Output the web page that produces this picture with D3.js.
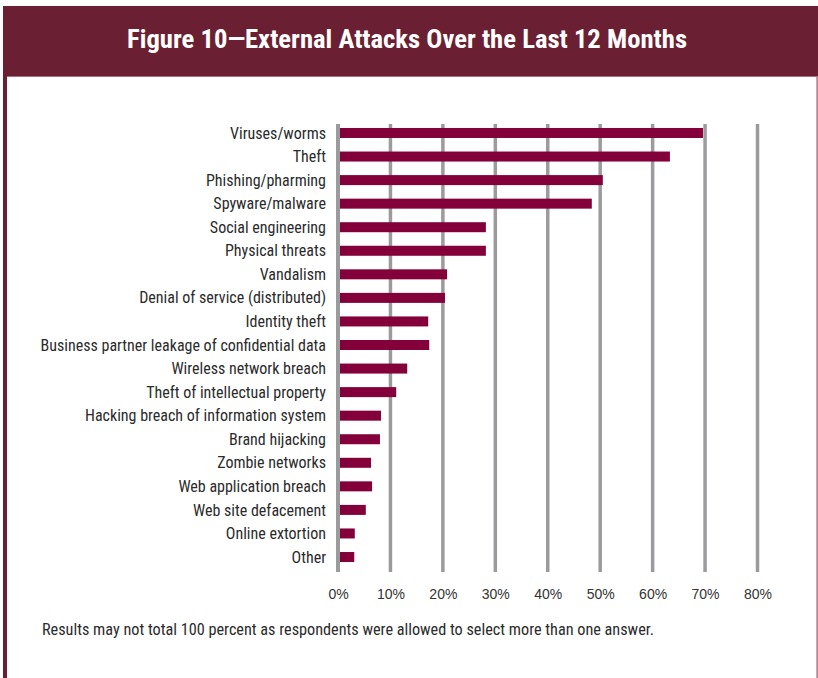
<!DOCTYPE html>
<html>
<head>
<meta charset="utf-8">
<script src="https://cdn.jsdelivr.net/npm/d3@7/dist/d3.min.js"></script>
<style>
  html, body { margin: 0; padding: 0; background: #ffffff; }
  svg { display: block; }
</style>
</head>
<body>
<svg id="chart" width="818" height="678"></svg>
<script>
// Survey results: share of respondents reporting each type of external attack
const categories = [
  "Viruses/worms",
  "Theft",
  "Phishing/pharming",
  "Spyware/malware",
  "Social engineering",
  "Physical threats",
  "Vandalism",
  "Denial of service (distributed)",
  "Identity theft",
  "Business partner leakage of confidential data",
  "Wireless network breach",
  "Theft of intellectual property",
  "Hacking breach of information system",
  "Brand hijacking",
  "Zombie networks",
  "Web application breach",
  "Web site defacement",
  "Online extortion",
  "Other"
];
const values = [69.6, 63.3, 50.5, 48.4, 28.2, 28.2, 20.8, 20.4, 17.2, 17.4,
                13.2, 11.1, 8.2, 8.0, 6.3, 6.5, 5.3, 3.2, 3.1];
const tickValues = [0, 10, 20, 30, 40, 50, 60, 70, 80];
const titleText = "Figure 10\u2014External Attacks Over the Last 12 Months";
const noteText = "Results may not total 100 percent as respondents were allowed to select more than one answer.";

const W = 818, H = 678;
const maroon = "#6b1f33";
const barColor = "#83003a";
const gridColor = "#9b9b9d";
const textColor = "#2b2b2b";
const narrow = "'Liberation Sans Narrow', 'Roboto Condensed', 'DejaVu Sans Condensed', 'Arial Narrow', sans-serif";
const regular = "'Liberation Sans', Arial, Helvetica, sans-serif";

const svg = d3.select("#chart");

// Frame: left rule, thin right rule, title band
svg.append("rect").attr("x", 3).attr("y", 6).attr("width", 4).attr("height", H - 6).attr("fill", maroon);
svg.append("rect").attr("x", 816.5).attr("y", 6).attr("width", 1.2).attr("height", H - 6).attr("fill", "#8f5468");
svg.append("rect").attr("x", 3).attr("y", 6).attr("width", W - 3).attr("height", 70).attr("fill", maroon);
svg.append("rect").attr("x", 7).attr("y", 76).attr("width", W - 8).attr("height", 1).attr("fill", "#a8707f");

svg.append("text")
  .attr("x", 407).attr("y", 48)
  .attr("text-anchor", "middle")
  .attr("fill", "#ffffff")
  .attr("font-family", narrow)
  .attr("font-weight", "bold")
  .attr("font-size", 26)
  .attr("textLength", 560)
  .attr("lengthAdjust", "spacingAndGlyphs")
  .text(titleText);

// Scales
const x = d3.scaleLinear().domain([0, 80]).range([338, 757.5]);
const y = d3.scalePoint().domain(categories).range([121.2, 568.8]).padding(0.5);
const barH = 10;
const gridTop = 124, gridBottom = 572;

// Vertical gridlines (0% rule is redrawn over the bars)
svg.append("g").selectAll("line")
  .data(tickValues.filter(d => d !== 0))
  .join("line")
  .attr("x1", d => x(d)).attr("x2", d => x(d))
  .attr("y1", gridTop).attr("y2", gridBottom)
  .attr("stroke", gridColor)
  .attr("stroke-width", 3.5);

// Bars
svg.append("g").selectAll("rect")
  .data(categories)
  .join("rect")
  .attr("x", x(0))
  .attr("y", d => y(d) - barH / 2)
  .attr("width", (d, i) => x(values[i]) - x(0))
  .attr("height", barH)
  .attr("fill", barColor);

svg.append("line")
  .attr("x1", x(0)).attr("x2", x(0))
  .attr("y1", gridTop).attr("y2", gridBottom)
  .attr("stroke", gridColor)
  .attr("stroke-width", 4);

// Category labels
svg.append("g").selectAll("text")
  .data(categories)
  .join("text")
  .attr("x", 326)
  .attr("y", d => y(d))
  .attr("dy", "0.35em")
  .attr("text-anchor", "end")
  .attr("fill", textColor)
  .attr("font-family", narrow)
  .attr("font-size", 16)
  .text(d => d);

// Percentage axis
const xAxis = d3.axisBottom(x)
  .tickValues(tickValues)
  .tickFormat(d => d + "%")
  .tickSize(0)
  .tickPadding(0);
const axisG = svg.append("g")
  .attr("transform", `translate(0, ${589})`)
  .call(xAxis);
axisG.select(".domain").remove();
axisG.selectAll("text")
  .attr("fill", "#333333")
  .attr("font-family", regular)
  .attr("font-size", 14)
  .attr("dy", "0.71em");

// Footnote
svg.append("text")
  .attr("x", 42).attr("y", 635)
  .attr("fill", textColor)
  .attr("font-family", narrow)
  .attr("font-size", 16)
  .attr("textLength", 612)
  .attr("lengthAdjust", "spacingAndGlyphs")
  .text(noteText);
</script>
</body>
</html>
